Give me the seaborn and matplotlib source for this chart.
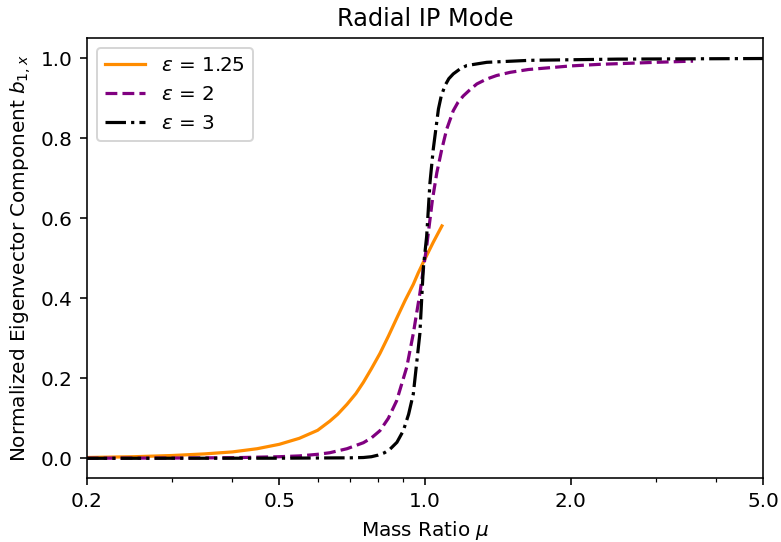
import numpy as np
import pandas as pd
import matplotlib
matplotlib.use("Agg")
import matplotlib.pyplot as plt
import matplotlib.ticker as mticker
import seaborn as sns

# eps = 1.25
mu_a = [0.20, 0.25, 0.30, 0.35, 0.40, 0.45, 0.50, 0.55, 0.60, 0.636, 0.66, 0.69, 0.72,
        0.746, 0.775, 0.807, 0.84, 0.874, 0.91, 0.946, 0.968, 0.992, 1.04, 1.084]
b_a = [0.002, 0.004, 0.007, 0.011, 0.016, 0.024, 0.035, 0.050, 0.070, 0.093, 0.11,
       0.135, 0.162, 0.19, 0.224, 0.262, 0.305, 0.35, 0.395, 0.435, 0.463, 0.49,
       0.54, 0.581]

# eps = 2
mu_b = [0.20, 0.30, 0.40, 0.50, 0.55, 0.60, 0.636, 0.69, 0.746, 0.775, 0.807, 0.84,
        0.874, 0.917, 0.946, 0.976, 1.008, 1.036, 1.058, 1.083, 1.109, 1.144, 1.17,
        1.20, 1.24, 1.28, 1.34, 1.406, 1.50, 1.635, 2.0, 2.3, 3.0, 3.58]
b_b = [0.0003, 0.0007, 0.0015, 0.004, 0.006, 0.010, 0.014, 0.024, 0.039, 0.051, 0.069,
       0.10, 0.144, 0.228, 0.312, 0.412, 0.53, 0.646, 0.714, 0.772, 0.823, 0.869, 0.89,
       0.906, 0.922, 0.936, 0.948, 0.957, 0.965, 0.972, 0.981, 0.985, 0.990, 0.993]

# eps = 3
mu_c = [0.20, 0.50, 0.636, 0.70, 0.746, 0.775, 0.80, 0.825, 0.847, 0.875, 0.902, 0.925,
        0.946, 0.976, 0.992, 1.008, 1.024, 1.04, 1.066, 1.08, 1.10, 1.12, 1.144, 1.18,
        1.22, 1.342, 1.648, 2.5, 5.0]
b_c = [0.0, 0.0003, 0.001, 0.0012, 0.002, 0.004, 0.008, 0.014, 0.023, 0.04, 0.069, 0.11,
       0.161, 0.312, 0.475, 0.555, 0.689, 0.772, 0.873, 0.905, 0.932, 0.949, 0.961,
       0.973, 0.982, 0.990, 0.995, 0.998, 0.9995]

labels = [r'$\varepsilon$ = 1.25', r'$\varepsilon$ = 2', r'$\varepsilon$ = 3']
xticks = [0.2, 0.5, 1.0, 2.0, 5.0]

fig, ax = plt.subplots(figsize=(781/144, 542/144), dpi=144)
fig.subplots_adjust(left=0.111, right=0.9773, top=0.9293, bottom=0.1175)

series = [(mu_a, b_a, 'darkorange', '-'), (mu_b, b_b, 'purple', '--'), (mu_c, b_c, 'black', '-.')]
for (m, b, c, ls), lab in zip(series, labels):
    df = pd.DataFrame({'mu': m, 'b': b})
    sns.lineplot(data=df, x='mu', y='b', ax=ax, color=c, linestyle=ls, lw=1.6,
                 label=lab, estimator=None, sort=True)

ax.set_xscale('log')
ax.set_xlim(0.2, 5.0)
ax.set_ylim(-0.05, 1.05)
ax.set_xticks(xticks)
ax.xaxis.set_major_formatter(mticker.FormatStrFormatter('%.1f'))
ax.xaxis.set_minor_formatter(mticker.NullFormatter())
ax.set_xlabel(r'Mass Ratio $\mu$')
ax.set_ylabel(r'Normalized Eigenvector Component $b_{1,x}$')
ax.set_title('Radial IP Mode')
ax.legend(loc='upper left', fontsize=10)

fig.savefig('out.png', dpi=144)
